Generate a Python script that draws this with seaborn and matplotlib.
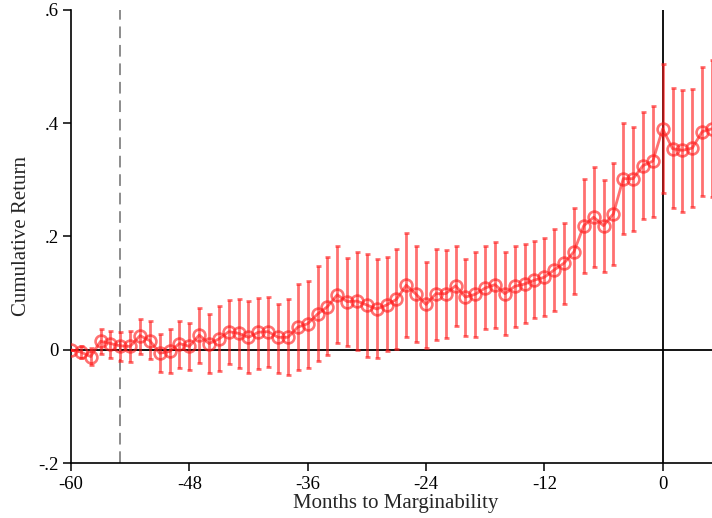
import numpy as np
import pandas as pd
import matplotlib
matplotlib.use("Agg")
import matplotlib.pyplot as plt
import seaborn as sns

# Event time in months relative to becoming marginable
months = list(range(-60, 6))

# Point estimates of the cumulative return
cum_return = [
    0.000, -0.004, -0.012, 0.015, 0.011, 0.007, 0.006, 0.025, 0.016, -0.006,
    -0.003, 0.011, 0.006, 0.026, 0.011, 0.019, 0.032, 0.029, 0.022, 0.031,
    0.032, 0.022, 0.022, 0.040, 0.046, 0.063, 0.076, 0.097, 0.085, 0.086,
    0.079, 0.072, 0.079, 0.089, 0.114, 0.098, 0.080, 0.099, 0.099, 0.113,
    0.093, 0.098, 0.109, 0.115, 0.099, 0.112, 0.116, 0.123, 0.128, 0.141,
    0.153, 0.173, 0.219, 0.234, 0.219, 0.240, 0.302, 0.302, 0.325, 0.333,
    0.390, 0.355, 0.352, 0.356, 0.385, 0.390,
]

# Lower and upper bounds of the confidence interval
ci_low = [
    0.000, -0.015, -0.027, -0.007, -0.014, -0.019, -0.022, -0.008, -0.016, -0.039,
    -0.041, -0.033, -0.035, -0.023, -0.041, -0.037, -0.025, -0.033, -0.041, -0.034,
    -0.031, -0.041, -0.044, -0.036, -0.032, -0.019, -0.009, 0.012, 0.006, 0.000,
    -0.013, -0.015, -0.002, 0.002, 0.022, 0.013, 0.004, 0.017, 0.020, 0.042,
    0.024, 0.022, 0.037, 0.039, 0.026, 0.041, 0.047, 0.056, 0.060, 0.069,
    0.081, 0.098, 0.135, 0.146, 0.137, 0.150, 0.204, 0.209, 0.230, 0.235,
    0.276, 0.250, 0.243, 0.252, 0.272, 0.269,
]
ci_high = [
    0.000, 0.007, 0.003, 0.036, 0.033, 0.032, 0.034, 0.055, 0.050, 0.028,
    0.036, 0.051, 0.048, 0.073, 0.063, 0.078, 0.088, 0.090, 0.086, 0.092,
    0.093, 0.080, 0.089, 0.116, 0.121, 0.148, 0.163, 0.183, 0.162, 0.172,
    0.169, 0.161, 0.163, 0.177, 0.206, 0.184, 0.155, 0.178, 0.176, 0.184,
    0.161, 0.173, 0.183, 0.190, 0.172, 0.184, 0.186, 0.192, 0.198, 0.213,
    0.224, 0.250, 0.302, 0.322, 0.300, 0.330, 0.400, 0.393, 0.419, 0.431,
    0.504, 0.462, 0.459, 0.461, 0.499, 0.511,
]

x_ticks = [-60, -48, -36, -24, -12, 0]
y_ticks = [-0.2, 0.0, 0.2, 0.4, 0.6]
y_tick_labels = ["-.2", "0", ".2", ".4", ".6"]
marker_month = -55

df = pd.DataFrame({"month": months, "ret": cum_return,
                   "lo": ci_low, "hi": ci_high})

sns.set_style("ticks")
plt.rcParams["font.family"] = ["Liberation Serif", "DejaVu Serif"]

fig = plt.figure(figsize=(7.12, 5.18), dpi=100)
ax = fig.add_axes([0.0997, 0.106, 0.9003, 0.875])

red = "#ff1a1a"
alpha = 0.62

# Reference lines
ax.axhline(0, color="black", lw=1.3, zorder=1)
ax.axvline(0, color="black", lw=1.3, zorder=1)
ax.axvline(marker_month, color="#8c8c8c", lw=1.4, ls=(0, (6, 3.5)), zorder=1)

# Confidence intervals with small caps
yerr = np.vstack([df["ret"] - df["lo"], df["hi"] - df["ret"]])
ax.errorbar(df["month"], df["ret"], yerr=yerr, fmt="none", ecolor=red,
            elinewidth=2.0, capsize=1.8, capthick=2.0, alpha=alpha, zorder=3)

# Connected point estimates with hollow circles
sns.lineplot(data=df, x="month", y="ret", ax=ax, color=red, alpha=alpha,
             lw=2.0, marker="o", markersize=8.5, markerfacecolor="none",
             markeredgecolor=red, markeredgewidth=1.9, zorder=4)

ax.set_xlim(-60, 5)
ax.set_ylim(-0.2, 0.6)
ax.set_xticks(x_ticks)
ax.set_xticklabels([str(t) for t in x_ticks])
ax.set_yticks(y_ticks)
ax.set_yticklabels(y_tick_labels)
ax.tick_params(axis="both", direction="out", length=6, width=1.1,
               labelsize=13.5, colors="black", pad=3)
for lab in ax.get_yticklabels():
    lab.set_rotation(0)

ax.set_xlabel("Months to Marginability", fontsize=15, labelpad=1.5)
ax.set_ylabel("Cumulative Return", fontsize=15, labelpad=5)
ax.xaxis.set_label_coords(0.507, -0.068)

sns.despine(ax=ax, top=True, right=True)
for side in ("left", "bottom"):
    ax.spines[side].set_linewidth(1.2)
    ax.spines[side].set_color("black")

fig.savefig("out.png", dpi=100)
